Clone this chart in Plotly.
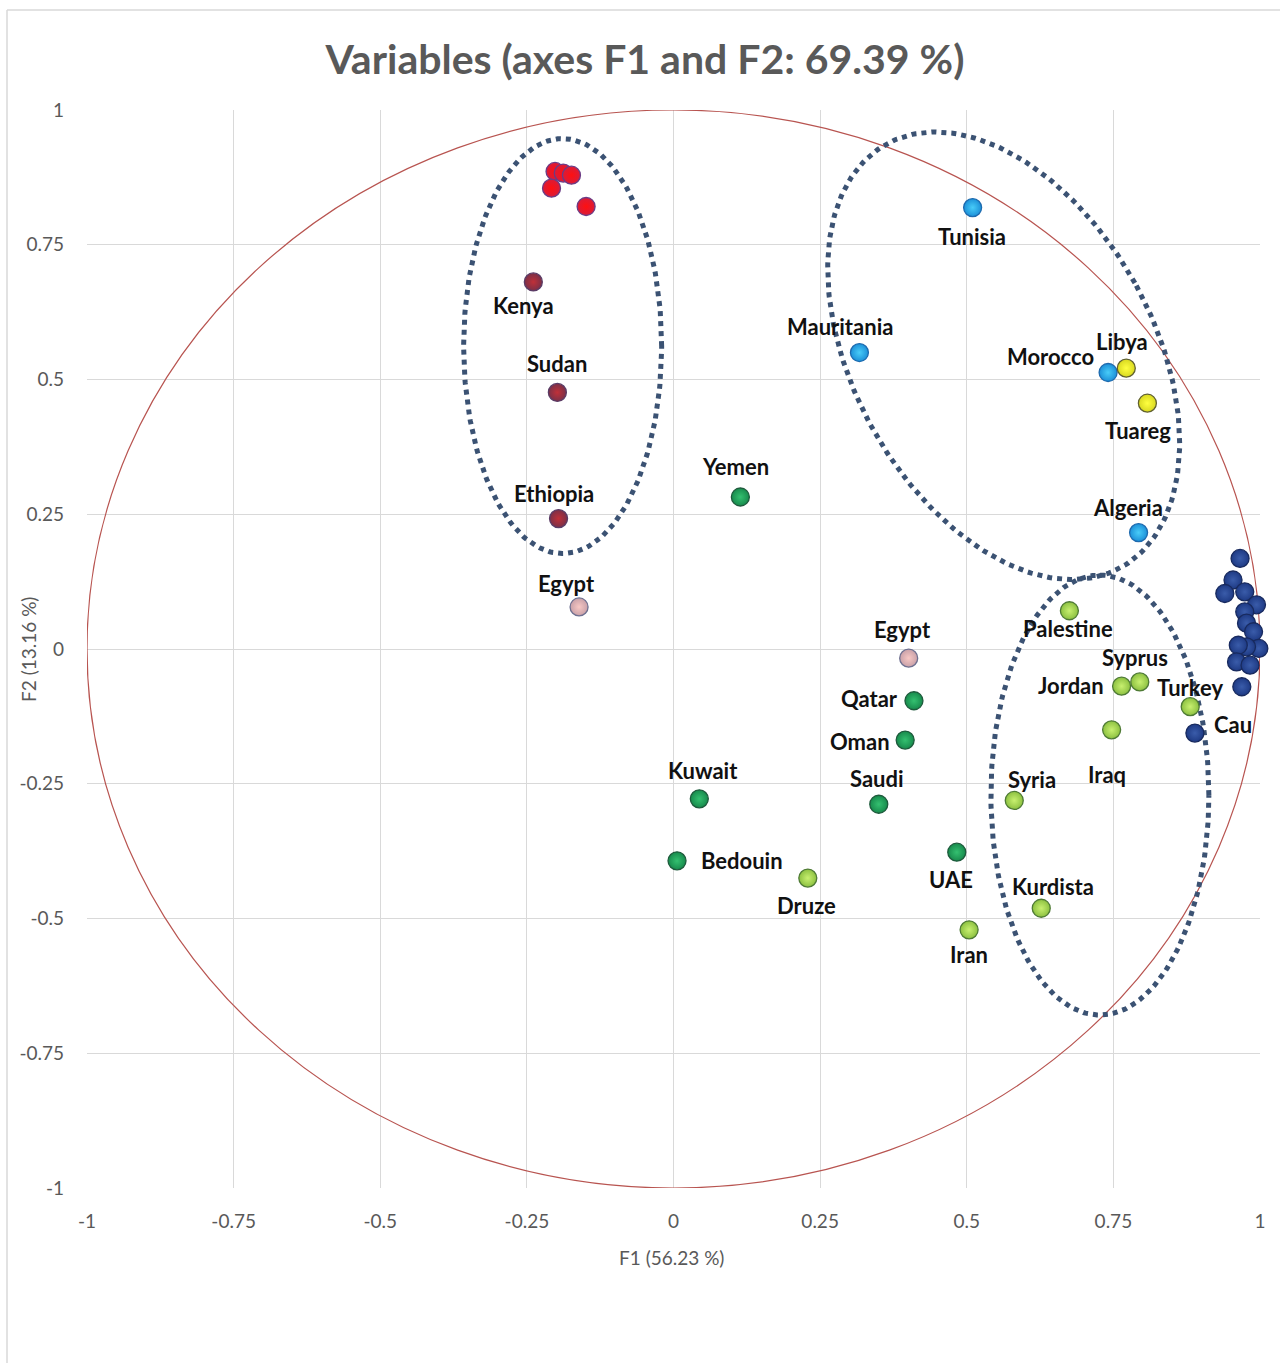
import numpy as np
import plotly.graph_objects as go

# ---------------- data ----------------
tick_vals = [-1, -0.75, -0.5, -0.25, 0, 0.25, 0.5, 0.75, 1]
tick_text = ["-1", "-0.75", "-0.5", "-0.25", "0", "0.25", "0.5", "0.75", "1"]

# East-Africa cluster (unlabelled red)
red_x = [-0.202, -0.188, -0.174, -0.208, -0.149]
red_y = [0.886, 0.883, 0.879, 0.855, 0.821]

# maroon
maroon_names = ["Kenya", "Sudan", "Ethiopia"]
maroon_x = [-0.239, -0.198, -0.196]
maroon_y = [0.681, 0.476, 0.242]

# pink
pink_names = ["Egypt", "Egypt"]
pink_x = [-0.161, 0.401]
pink_y = [0.078, -0.017]

# light blue (North Africa)
lblue_names = ["Tunisia", "Mauritania", "Morocco", "Algeria"]
lblue_x = [0.510, 0.317, 0.741, 0.793]
lblue_y = [0.819, 0.550, 0.513, 0.216]

# yellow
yellow_names = ["Libya", "Tuareg"]
yellow_x = [0.772, 0.808]
yellow_y = [0.521, 0.456]

# dark green (Arabian peninsula)
dgreen_names = ["Yemen", "Qatar", "Oman", "Saudi", "Kuwait", "Bedouin", "UAE"]
dgreen_x = [0.114, 0.410, 0.395, 0.350, 0.044, 0.006, 0.483]
dgreen_y = [0.282, -0.096, -0.169, -0.288, -0.278, -0.393, -0.377]

# light green (Levant / Near East)
lgreen_names = ["Palestine", "Jordan", "Syprus", "Turkey", "Iraq", "Syria", "Kurdista", "Iran", "Druze"]
lgreen_x = [0.675, 0.764, 0.795, 0.881, 0.747, 0.581, 0.627, 0.504, 0.229]
lgreen_y = [0.071, -0.069, -0.061, -0.107, -0.150, -0.281, -0.481, -0.521, -0.425]

# dark blue (Europe / Caucasus)
navy_names = ["", "", "", "", "", "", "", "", "", "", "", "", "", "", "Cau"]
navy_x = [0.966, 0.954, 0.940, 0.974, 0.994, 0.974, 0.977, 0.989, 0.998, 0.977, 0.963, 0.960, 0.983, 0.969, 0.889]
navy_y = [0.168, 0.128, 0.103, 0.106, 0.082, 0.069, 0.048, 0.032, 0.001, 0.004, 0.007, -0.024, -0.030, -0.070, -0.156]

# ---------------- label offsets (pixels: dx, dy up) ----------------
label_offsets = {
    "Kenya": (-10, -24), "Sudan": (0, 29), "Ethiopia": (-5, 25),
    "Egypt_0": (-13, 23), "Egypt_1": (-6, 29),
    "Tunisia": (-1, -29), "Mauritania": (-19, 26), "Morocco": (-58, 16), "Algeria": (-11, 25),
    "Libya": (-4, 27), "Tuareg": (-9, -27),
    "Yemen": (-5, 31), "Qatar": (-44, 2), "Oman": (-45, -1), "Saudi": (-2, 26),
    "Kuwait": (4, 28), "Bedouin": (65, 0), "UAE": (-6, -27),
    "Palestine": (-1, -18), "Jordan": (-51, 1), "Syprus": (-5, 24), "Turkey": (0, 19),
    "Iraq": (-5, -45), "Syria": (18, 21), "Kurdista": (12, 22), "Iran": (0, -25), "Druze": (-1, -27),
    "Cau": (38, 9),
}

# ---------------- figure ----------------
fig = go.Figure()

SX, SY = 586.5, 539.0  # px per unit (plot area 1173 x 1078 px)


def ellipse(cx, cy, a_px, b_px, rot_deg):
    t = np.linspace(0, 2 * np.pi, 300)
    th = np.radians(rot_deg)
    ex = b_px * np.cos(t)
    ey = a_px * np.sin(t)
    rx = ex * np.cos(th) - ey * np.sin(th)
    ry = ex * np.sin(th) + ey * np.cos(th)
    return cx + rx / SX, cy + ry / SY

# (centre x, centre y, semi-major px, semi-minor px, rotation deg)
ellipses = [
    (-0.189, 0.562, 207.5, 99, 0),
    (0.563, 0.544, 242, 150, 29),
    (0.727, -0.271, 220, 109, 0),
]
for (cx, cy, a, b, r) in ellipses:
    ex, ey = ellipse(cx, cy, a, b, r)
    fig.add_trace(go.Scatter(x=ex, y=ey, mode="lines",
                             line=dict(color="#3B5273", width=5, dash="5px,5px"),
                             hoverinfo="skip", showlegend=False))

# (x, y, names, centre colour, body colour, rim colour)
groups = [
    (red_x, red_y, [""] * len(red_x), "#FF1010", "#D81C3A", "#6A3C86"),
    (maroon_x, maroon_y, maroon_names, "#C03038", "#7A3048", "#5A3C66"),
    (pink_x, pink_y, pink_names, "#F8C8C4", "#C8A0A8", "#6E7090"),
    (lblue_x, lblue_y, lblue_names, "#48CCF8", "#1C90D8", "#1E6AAE"),
    (yellow_x, yellow_y, yellow_names, "#FFFF40", "#D8D820", "#606030"),
    (dgreen_x, dgreen_y, dgreen_names, "#34C070", "#178A4C", "#1E5A3C"),
    (lgreen_x, lgreen_y, lgreen_names, "#C8F070", "#8CC040", "#4E7A35"),
    (navy_x, navy_y, navy_names, "#3A5CAA", "#1E3A84", "#182A5E"),
]

annotations = []
egypt_count = 0
for gx, gy, gnames, col, body, edge in groups:
    fig.add_trace(go.Scatter(
        x=gx, y=gy, mode="markers", cliponaxis=False,
        marker=dict(size=18, color=body,
                    gradient=dict(type="radial", color=col),
                    line=dict(color=edge, width=1.3)),
        hoverinfo="skip", showlegend=False))
    for xx, yy, nm in zip(gx, gy, gnames):
        if not nm:
            continue
        key = nm
        if nm == "Egypt":
            key = f"Egypt_{egypt_count}"
            egypt_count += 1
        dx, dy = label_offsets[key]
        annotations.append(dict(x=xx, y=yy, xref="x", yref="y", text=nm,
                                showarrow=False, xshift=dx, yshift=dy,
                                font=dict(family="Lato", size=22, color="#111111", weight="bold")))

# axis titles
annotations.append(dict(text="F1 (56.23 %)", xref="paper", yref="paper", x=0.4987, y=-0.0649,
                        xanchor="center", yanchor="middle", showarrow=False,
                        font=dict(family="Lato", size=19, color="#595959")))
annotations.append(dict(text="F2 (13.16 %)", xref="paper", yref="paper", x=-0.0503, y=0.5,
                        xanchor="center", yanchor="middle", showarrow=False, textangle=-90,
                        font=dict(family="Lato", size=19, color="#595959")))

shapes = [
    dict(type="circle", xref="x", yref="y", x0=-1, y0=-1, x1=1, y1=1,
         line=dict(color="#B85450", width=1.2), layer="between"),
    # chart area border (left & top)
    dict(type="line", xref="paper", yref="paper", x0=-0.0682, x1=-0.0682, y0=-0.17, y1=1.0928,
         line=dict(color="#D9D9D9", width=1.5)),
    dict(type="line", xref="paper", yref="paper", x0=-0.0682, x1=1.02, y0=1.0928, y1=1.0928,
         line=dict(color="#D9D9D9", width=1.5)),
]

axis_common = dict(
    range=[-1, 1], tickvals=tick_vals, ticktext=tick_text,
    showgrid=True, gridcolor="#D9D9D9", gridwidth=1,
    zeroline=False, showline=False, ticks="", automargin=False,
    tickfont=dict(family="Lato", size=19, color="#595959"),
)

fig.update_layout(
    width=1280, height=1363,
    margin=dict(l=87, r=20, t=110, b=175),
    paper_bgcolor="white", plot_bgcolor="white",
    title=dict(text="Variables (axes F1 and F2: 69.39 %)", x=645 / 1280, xanchor="center",
               y=1 - 60 / 1363, yanchor="middle",
               font=dict(family="Lato", size=41, color="#595959", weight="bold")),
    xaxis=dict(**axis_common, ticklabelstandoff=20),
    yaxis=dict(**axis_common, ticklabelstandoff=22),
    shapes=shapes,
    annotations=annotations,
)

fig.write_html("out.html", config={"displayModeBar": False},
               post_script="document.body.style.margin='0';")
